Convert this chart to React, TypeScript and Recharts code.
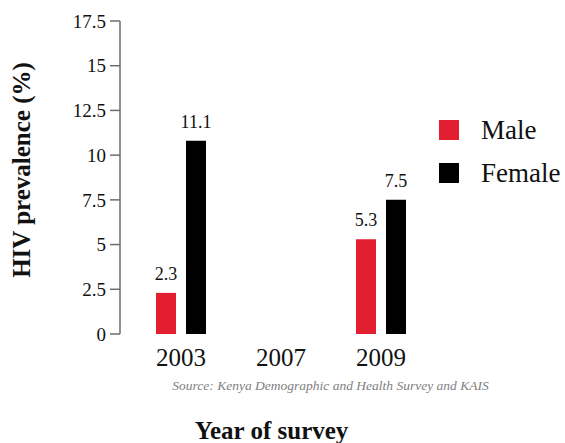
import React from 'react';
import { BarChart, Bar, XAxis, YAxis, LabelList } from 'recharts';

const years = ['2003', '2007', '2009'];
const maleValues: (number | null)[] = [2.3, null, 5.3];
const femaleValues: (number | null)[] = [10.8, null, 7.5];
const maleLabels = ['2.3', '', '5.3'];
const femaleLabels = ['11.1', '', '7.5'];
const yTicks = [0, 2.5, 5, 7.5, 10, 12.5, 15, 17.5];

const data = years.map((y, i) => ({
  year: y,
  male: maleValues[i],
  female: femaleValues[i],
  maleLabel: maleLabels[i],
  femaleLabel: femaleLabels[i],
}));

const FONT = '"Liberation Serif", "Times New Roman", serif';
const RED = '#e31e30';

export default function App() {
  return (
    <div style={{ position: 'absolute', left: 0, top: 0, width: 565, height: 443, fontFamily: FONT }}>
      <BarChart
        width={565}
        height={443}
        data={data}
        margin={{ top: 21, right: 134, bottom: 79, left: 0 }}
        barSize={20}
        barGap={10}
      >
        <XAxis
          dataKey="year"
          axisLine={false}
          tickLine={false}
          tickSize={6}
          tickMargin={8}
          height={30}
          padding={{ left: 11, right: 0 }}
          tick={{ fontSize: 25, fill: '#111', fontFamily: FONT }}
          interval={0}
        />
        <YAxis
          width={120}
          domain={[0, 17.5]}
          ticks={yTicks}
          interval={0}
          axisLine={{ stroke: '#6d6d6d', strokeWidth: 1.5 }}
          tickLine={{ stroke: '#6d6d6d', strokeWidth: 1.5 }}
          tickSize={10}
          tickMargin={4}
          tick={{ fontSize: 19, fill: '#111', fontFamily: FONT }}
        />
        <Bar dataKey="male" fill={RED} isAnimationActive={false}>
          <LabelList dataKey="maleLabel" position="top" offset={13} style={{ fontSize: 18, fill: '#111', fontFamily: FONT }} />
        </Bar>
        <Bar dataKey="female" fill="#000000" isAnimationActive={false}>
          <LabelList dataKey="femaleLabel" position="top" offset={13} style={{ fontSize: 18, fill: '#111', fontFamily: FONT }} />
        </Bar>
      </BarChart>

      {/* Y axis title */}
      <div
        style={{
          position: 'absolute',
          left: 22 - 150,
          top: 170 - 15,
          width: 300,
          height: 30,
          lineHeight: '30px',
          textAlign: 'center',
          transform: 'rotate(-90deg)',
          fontSize: 25,
          fontWeight: 'bold',
          color: '#111',
          whiteSpace: 'nowrap',
        }}
      >
        HIV prevalence (%)
      </div>

      {/* Legend */}
      <div style={{ position: 'absolute', left: 439, top: 112, fontSize: 27, color: '#111' }}>
        <div style={{ display: 'flex', alignItems: 'center', height: 36, marginBottom: 7 }}>
          <div style={{ width: 20, height: 20, background: RED, marginRight: 22 }} />
          <span>Male</span>
        </div>
        <div style={{ display: 'flex', alignItems: 'center', height: 36 }}>
          <div style={{ width: 20, height: 20, background: '#000', marginRight: 22 }} />
          <span>Female</span>
        </div>
      </div>

      {/* Source */}
      <div
        style={{
          position: 'absolute',
          left: 0,
          width: 661,
          top: 378,
          textAlign: 'center',
          fontSize: 13.5,
          fontStyle: 'italic',
          color: '#808080',
          whiteSpace: 'nowrap',
        }}
      >
        Source: Kenya Demographic and Health Survey and KAIS
      </div>

      {/* X axis title */}
      <div
        style={{
          position: 'absolute',
          left: 0,
          width: 543,
          top: 417,
          textAlign: 'center',
          fontSize: 25,
          fontWeight: 'bold',
          color: '#111',
          whiteSpace: 'nowrap',
        }}
      >
        Year of survey
      </div>
    </div>
  );
}
